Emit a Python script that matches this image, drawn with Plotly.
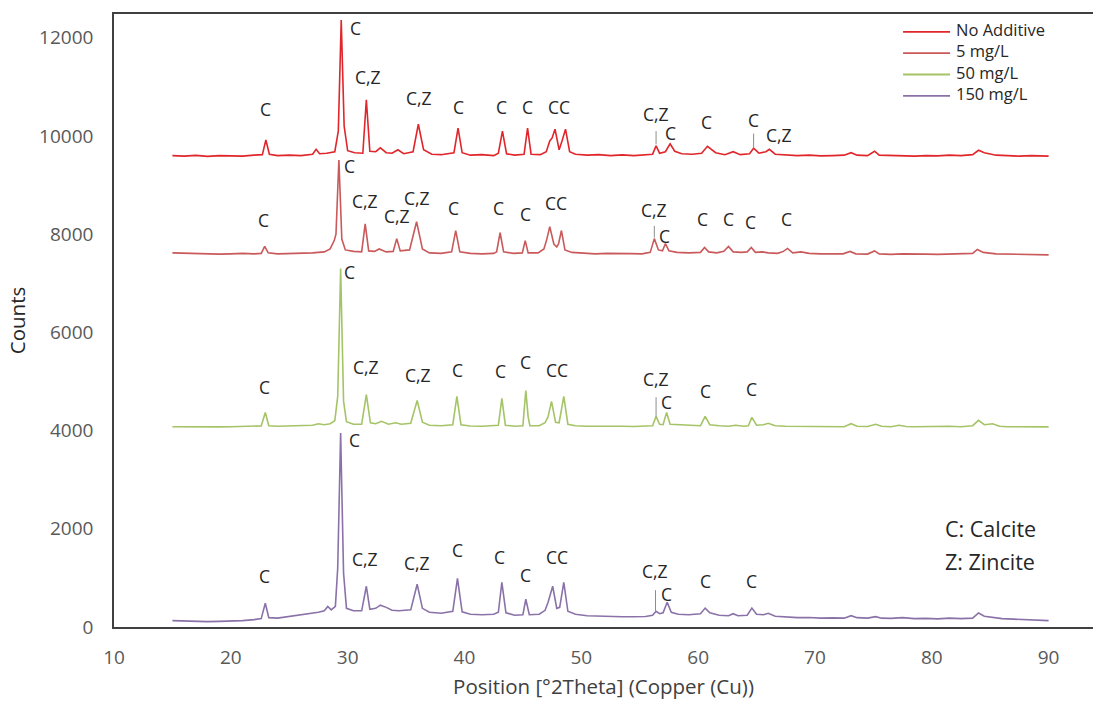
import plotly.graph_objects as go

# ---------------- data ----------------
na_x = [15.0, 16.0, 17.0, 18.0, 19.0, 20.0, 21.0, 22.0, 22.7, 23.0, 23.3, 24.0, 25.0, 26.0, 27.0, 27.3, 27.6,
        28.2, 28.9, 29.2, 29.45, 29.7, 30.0, 30.6, 31.3, 31.6, 31.9, 32.4, 32.8, 33.3, 33.8, 34.3, 34.8, 35.6,
        36.05, 36.5, 37.2, 38.0, 39.1, 39.45, 39.8, 40.5, 41.5, 42.5, 42.9, 43.25, 43.6, 44.3, 45.1, 45.4, 45.7,
        46.5, 47.0, 47.3, 47.5, 47.75, 48.1, 48.35, 48.65, 49.0, 49.5, 50.5, 51.5, 52.5, 53.5, 54.5, 55.5, 56.1,
        56.4, 56.7, 57.2, 57.6, 58.0, 58.6, 59.5, 60.3, 60.8, 61.5, 62.3, 63.0, 63.6, 64.4, 64.75, 65.2, 65.8,
        66.1, 66.6, 67.5, 68.5, 69.5, 70.5, 71.5, 72.5, 73.1, 73.6, 74.5, 75.1, 75.5, 76.5, 77.5, 78.5, 79.5,
        80.5, 81.5, 82.5, 83.5, 84.0, 84.5, 85.5, 86.5, 87.5, 88.5, 89.5, 90.0]
na_y = [9600, 9590, 9605, 9585, 9600, 9595, 9590, 9610, 9620, 9920, 9630, 9600, 9610, 9600, 9630, 9730, 9640,
        9650, 9680, 10100, 12360, 10200, 9700, 9660, 9650, 10740, 9690, 9680, 9760, 9660, 9650, 9720, 9640, 9680,
        10240, 9720, 9630, 9620, 9660, 10160, 9660, 9610, 9620, 9600, 9650, 10100, 9640, 9610, 9630, 10160, 9630,
        9620, 9680, 9900, 9960, 10140, 9720, 9900, 10140, 9680, 9630, 9610, 9620, 9600, 9615, 9600, 9610, 9630,
        9800, 9650, 9680, 9840, 9690, 9640, 9630, 9650, 9790, 9660, 9620, 9680, 9620, 9640, 9750, 9650, 9680,
        9730, 9630, 9610, 9600, 9610, 9595, 9600, 9610, 9660, 9610, 9600, 9690, 9610, 9600, 9605, 9590, 9600,
        9595, 9610, 9600, 9620, 9710, 9660, 9610, 9600, 9590, 9600, 9585, 9590]

m5_x = [15.0, 16.0, 17.0, 18.0, 19.0, 20.0, 21.0, 22.0, 22.6, 22.9, 23.2, 24.0, 25.0, 26.0, 27.0, 28.0, 28.5,
        28.85, 29.0, 29.25, 29.5, 29.8, 30.5, 31.2, 31.5, 31.8, 32.3, 32.7, 33.3, 33.9, 34.2, 34.5, 35.3, 35.9,
        36.4, 37.0, 38.0, 38.9, 39.25, 39.6, 40.5, 41.5, 42.5, 42.75, 43.05, 43.35, 44.2, 44.95, 45.2, 45.45,
        46.3, 46.8, 47.05, 47.3, 47.65, 47.9, 48.05, 48.3, 48.6, 49.2, 50.2, 51.2, 52.2, 53.2, 54.2, 55.2, 55.9,
        56.25, 56.6, 56.95, 57.2, 57.5, 58.2, 59.2, 60.2, 60.55, 60.9, 61.6, 62.2, 62.6, 63.0, 63.7, 64.2, 64.55,
        64.9, 65.5, 66.0, 66.8, 67.3, 67.65, 68.1, 68.8, 69.5, 70.5, 71.5, 72.4, 73.0, 73.5, 74.5, 75.1, 75.5,
        76.5, 77.5, 78.5, 79.5, 80.5, 81.5, 82.5, 83.5, 83.9, 84.4, 85.5, 86.5, 87.5, 88.5, 89.5, 90.0]
m5_y = [7620, 7610, 7600, 7605, 7595, 7600, 7610, 7600, 7610, 7750, 7620, 7600, 7605, 7600, 7620, 7640, 7700,
        7870, 8000, 9510, 7900, 7680, 7650, 7640, 8210, 7660, 7650, 7700, 7640, 7650, 7910, 7660, 7680, 8255,
        7700, 7620, 7610, 7640, 8075, 7640, 7610, 7600, 7610, 7640, 8030, 7640, 7610, 7620, 7870, 7620,
        7620, 7700, 7900, 8155, 7800, 7740, 7800, 8075, 7680, 7630, 7610, 7600, 7610, 7600, 7605, 7600, 7630,
        7910, 7680, 7660, 7810, 7660, 7630, 7620, 7630, 7730, 7640, 7620, 7650, 7750, 7640, 7630, 7640, 7730,
        7630, 7640, 7620, 7610, 7650, 7710, 7620, 7640, 7610, 7600, 7605, 7600, 7650, 7600, 7595, 7660, 7600,
        7590, 7600, 7590, 7595, 7590, 7600, 7595, 7610, 7690, 7630, 7600, 7595, 7590, 7590, 7580, 7580]

m50_x = [15.0, 16.0, 17.0, 18.0, 19.0, 20.0, 21.0, 22.0, 22.6, 22.95, 23.25, 24.0, 25.0, 26.0, 27.0, 27.5, 28.0,
         28.5, 28.9, 29.15, 29.4, 29.65, 29.9, 30.5, 31.2, 31.6, 31.95, 32.4, 32.9, 33.5, 34.1, 34.6, 35.4, 35.95,
         36.4, 37.0, 38.0, 39.0, 39.35, 39.7, 40.5, 41.5, 42.5, 42.9, 43.2, 43.5, 44.3, 45.0, 45.25, 45.45, 45.6,
         46.4, 46.9, 47.15, 47.45, 47.8, 48.1, 48.5, 48.85, 49.5, 50.5, 51.5, 52.5, 53.5, 54.5, 55.5, 56.1, 56.4,
         56.7, 57.0, 57.3, 57.6, 58.3, 59.2, 60.2, 60.6, 61.0, 61.8, 62.6, 63.2, 63.9, 64.3, 64.6, 65.0, 65.6,
         66.0, 66.6, 67.5, 68.5, 69.5, 70.5, 71.5, 72.5, 73.1, 73.6, 74.5, 75.2, 75.7, 76.5, 77.2, 77.8, 78.5,
         79.5, 80.5, 81.5, 82.5, 83.5, 84.0, 84.5, 85.2, 85.8, 86.5, 87.5, 88.5, 89.5, 90.0]
m50_y = [4080, 4075, 4085, 4080, 4075, 4080, 4085, 4090, 4095, 4370, 4100, 4090, 4095, 4100, 4110, 4140, 4120,
         4140, 4200, 4700, 7300, 4600, 4180, 4130, 4130, 4735, 4160, 4140, 4190, 4130, 4160, 4130, 4150, 4615,
         4170, 4110, 4100, 4120, 4695, 4120, 4095, 4090, 4095, 4110, 4655, 4110, 4090, 4100, 4815, 4280, 4100,
         4100, 4160, 4280, 4595, 4170, 4160, 4695, 4130, 4100, 4090, 4095, 4085, 4090, 4085, 4090, 4100, 4290,
         4130, 4120, 4370, 4130, 4120, 4110, 4100, 4290, 4120, 4100, 4090, 4110, 4090, 4100, 4270, 4110, 4120,
         4150, 4100, 4090, 4085, 4090, 4080, 4085, 4080, 4140, 4090, 4085, 4130, 4090, 4080, 4110, 4085, 4080,
         4085, 4080, 4090, 4080, 4100, 4210, 4120, 4140, 4090, 4080, 4075, 4080, 4070, 4075]

m150_x = [15.0, 16.0, 17.0, 18.0, 19.0, 20.0, 21.0, 22.0, 22.6, 22.95, 23.25, 24.0, 25.0, 26.0, 27.0, 27.5, 28.0,
          28.3, 28.6, 28.95, 29.15, 29.4, 29.65, 29.9, 30.5, 31.2, 31.6, 31.9, 32.4, 32.8, 33.3, 33.8, 34.4, 35.4,
          35.95, 36.4, 37.0, 38.0, 39.0, 39.4, 39.8, 40.5, 41.5, 42.5, 42.9, 43.2, 43.55, 44.3, 45.0, 45.25, 45.55,
          46.4, 46.9, 47.15, 47.55, 47.9, 48.15, 48.5, 48.85, 49.5, 50.5, 51.5, 52.5, 53.5, 54.5, 55.5, 56.1, 56.4,
          56.7, 57.0, 57.35, 57.7, 58.3, 59.2, 60.2, 60.6, 61.0, 61.8, 62.6, 63.0, 63.4, 64.2, 64.6, 65.0, 65.6,
          66.0, 66.6, 67.5, 68.5, 69.5, 70.5, 71.5, 72.5, 73.1, 73.6, 74.5, 75.2, 75.7, 76.5, 77.5, 78.5, 79.5,
          80.5, 81.5, 82.5, 83.5, 84.0, 84.5, 85.2, 86.0, 87.0, 88.0, 89.0, 90.0]
m150_y = [130, 120, 110, 110, 115, 115, 130, 150, 170, 485, 190, 180, 210, 240, 280, 300, 330,
          420, 350, 420, 1200, 3950, 1100, 380, 330, 330, 830, 360, 380, 445, 400, 340, 330, 350,
          870, 380, 300, 280, 320, 990, 310, 260, 250, 260, 300, 910, 290, 240, 250, 565, 250,
          260, 340, 500, 830, 380, 400, 910, 320, 260, 230, 220, 215, 210, 210, 215, 240, 320,
          270, 290, 505, 300, 260, 250, 270, 385, 290, 240, 230, 270, 230, 240, 385, 260, 250,
          280, 220, 200, 190, 195, 180, 185, 180, 230, 190, 180, 210, 180, 175, 190, 170, 175,
          165, 180, 170, 180, 285, 220, 190, 170, 160, 150, 140, 130]

series_names = ["No Additive", "5 mg/L", "50 mg/L", "150 mg/L"]
series_colors = ["#e0262b", "#c9595a", "#a5c467", "#8a72a8"]

# peak labels: text, x, y  (one set per pattern)
lab_text = ["C", "C", "C,Z", "C,Z", "C", "C", "C", "CC", "C,Z", "C", "C", "C", "C,Z",
            "C", "C", "C,Z", "C,Z", "C,Z", "C", "C", "C", "CC", "C,Z", "C", "C", "C", "C", "C",
            "C", "C", "C,Z", "C,Z", "C", "C", "C", "CC", "C,Z", "C", "C", "C",
            "C", "C", "C,Z", "C,Z", "C", "C", "C", "CC", "C,Z", "C", "C", "C"]
lab_x = [23.0, 30.7, 31.7, 36.1, 39.5, 43.2, 45.4, 48.1, 56.4, 57.6, 60.7, 64.7, 66.9,
         22.8, 30.2, 31.5, 34.2, 35.9, 39.1, 42.9, 45.2, 47.8, 56.2, 57.1, 60.4, 62.6, 64.5, 67.6,
         22.9, 30.2, 31.6, 36.0, 39.4, 43.1, 45.2, 47.9, 56.4, 57.3, 60.6, 64.6,
         22.9, 30.6, 31.5, 35.9, 39.4, 43.0, 45.2, 47.9, 56.3, 57.3, 60.6, 64.6]
lab_y = [10560, 12200, 11200, 10770, 10590, 10590, 10590, 10590, 10440, 10060, 10280, 10320, 10020,
         8280, 9390, 8680, 8380, 8740, 8540, 8540, 8420, 8640, 8500, 7970, 8300, 8300, 8240, 8300,
         4880, 7225, 5300, 5140, 5240, 5220, 5400, 5240, 5060, 4590, 4815, 4855,
         1030, 3805, 1395, 1295, 1560, 1435, 1050, 1435, 1150, 675, 930, 930]

# short leader lines under some labels: x, y bottom, y top
lead_x = [56.4, 64.75, 56.25, 56.4, 56.35]
lead_y0 = [9830, 9770, 7930, 4290, 320]
lead_y1 = [10100, 10050, 8170, 4680, 750]

xticks = [10, 20, 30, 40, 50, 60, 70, 80, 90]
yticks = [0, 2000, 4000, 6000, 8000, 10000, 12000]
ytick_text = ["0", "2000", "4000", "6000", "8000", "10000", "12000"]

# ---------------- figure ----------------
FONT = "'Open Sans', sans-serif"
fig = go.Figure()
for name, xs, ys, col in zip(series_names, [na_x, m5_x, m50_x, m150_x], [na_y, m5_y, m50_y, m150_y], series_colors):
    fig.add_trace(go.Scatter(x=xs, y=ys, mode="lines", name=name, showlegend=False,
                             line=dict(color=col, width=1.6)))

for t, x, y in zip(lab_text, lab_x, lab_y):
    fig.add_annotation(x=x, y=y, text=t, showarrow=False, xref="x", yref="y", borderpad=0,
                       font=dict(family=FONT, size=17.5, color="#262626"))

for x, y0, y1 in zip(lead_x, lead_y0, lead_y1):
    fig.add_shape(type="line", x0=x, x1=x, y0=y0, y1=y1, xref="x", yref="y",
                  line=dict(color="#8c8c8c", width=1))

# legend (drawn in paper space, top right): one text block, line samples beside each row
LEG_FS = 16.5
leg_step_px = LEG_FS * 1.3
plot_h = 707 - 12 - 78
leg_top_px = 30  # centre of first row, pixels from top of figure
for i, col in enumerate(series_colors):
    yy = (629 - (leg_top_px + i * leg_step_px)) / plot_h
    fig.add_shape(type="line", xref="paper", yref="paper", x0=0.806, x1=0.854, y0=yy, y1=yy,
                  line=dict(color=col, width=1.8))
fig.add_annotation(xref="paper", yref="paper", x=0.859,
                   y=(629 - (leg_top_px - leg_step_px / 2 - 4)) / plot_h,
                   text="<br>".join(series_names), showarrow=False, align="left",
                   xanchor="left", yanchor="top", borderpad=0,
                   font=dict(family=FONT, size=LEG_FS, color="#262626"))

fig.add_annotation(x=81.0, y=2000, text="C: Calcite", showarrow=False, xanchor="left",
                   font=dict(family=FONT, size=21.5, color="#262626"))
fig.add_annotation(x=81.0, y=1335, text="Z: Zincite", showarrow=False, xanchor="left",
                   font=dict(family=FONT, size=21.5, color="#262626"))

fig.update_layout(
    width=1106, height=707,
    margin=dict(l=114, r=13, t=12, b=78),
    paper_bgcolor="white", plot_bgcolor="white",
    font=dict(family=FONT, size=17, color="#595959"),
    showlegend=False,
    xaxis=dict(range=[10, 93.8], tickvals=xticks, showgrid=False, zeroline=False,
               showline=True, linecolor="#404040", linewidth=1.5, mirror=True, ticks="",
               ticklabelstandoff=12,
               tickfont=dict(family=FONT, size=19, color="#595959"),
               title=dict(text="Position [°2Theta] (Copper (Cu))", standoff=11,
                          font=dict(family=FONT, size=20.5, color="#404040"))),
    yaxis=dict(range=[0, 12485], tickvals=yticks, ticktext=ytick_text, showgrid=False, zeroline=False,
               showline=True, linecolor="#404040", linewidth=1.5, ticks="",
               ticklabelstandoff=15,
               tickfont=dict(family=FONT, size=19, color="#595959"),
               title=dict(text="Counts", standoff=8,
                          font=dict(family=FONT, size=20.5, color="#262626"))),
)

fig.write_html("out.html")
